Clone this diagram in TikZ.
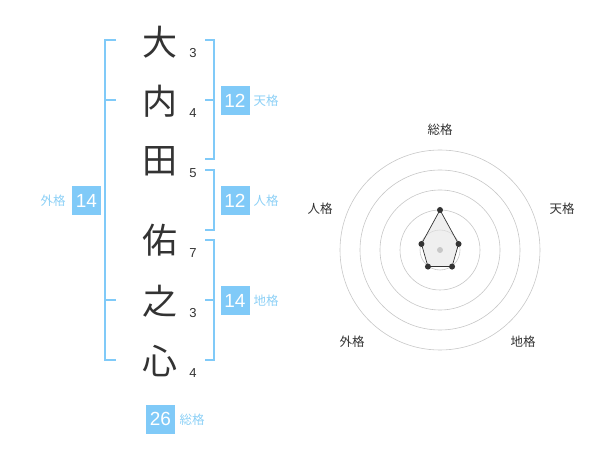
\documentclass[tikz,border=0pt]{standalone}
\usepackage{fontspec}
\setmainfont{Liberation Sans}
\newfontfamily\jp{Noto Sans CJK JP}
\definecolor{skyline}{RGB}{128,202,248}
\definecolor{skytext}{RGB}{140,208,246}
\definecolor{inkgray}{RGB}{51,51,51}
\tikzset{
  kanji/.style={text=inkgray, font=\jp\fontsize{35}{35}\selectfont, inner sep=0pt},
  strokes/.style={text=inkgray, font=\fontsize{13}{13}\selectfont, inner sep=0pt},
  bracket/.style={draw=skyline, line width=2pt},
  scorebox/.style={fill=skyline, text=white, minimum width=29pt, minimum height=29pt, inner sep=0pt, font=\fontsize{19}{19}\selectfont},
  kaku/.style={text=skytext, font=\jp\fontsize{12.5}{12.5}\selectfont, inner sep=0pt},
  axislabel/.style={text=inkgray, font=\jp\fontsize{12.5}{12.5}\selectfont, inner sep=0pt},
  ring/.style={draw=black!22, line width=0.6pt},
  dot/.style={fill=inkgray, draw=none}
}
\begin{document}
\begin{tikzpicture}[x=1pt,y=-1pt]
			%%%%% START %%%%%
			\useasboundingbox (0,0) rectangle (600,470);
			
			\node[kanji] (c1) at (160, 42) {大};
			\node[kanji] (c2) at (160, 101) {内};
			\node[kanji] (c3) at (160, 161) {田};
			\node[kanji] (c4) at (160, 240) {佑};
			\node[kanji] (c5) at (160, 301) {之};
			\node[kanji] (c6) at (160, 361) {心};
			
			\node[strokes] (s1) at (193, 53) {3};
			\node[strokes] (s2) at (193, 113) {4};
			\node[strokes] (s3) at (193, 173) {5};
			\node[strokes] (s4) at (193, 253) {7};
			\node[strokes] (s5) at (193, 313) {3};
			\node[strokes] (s6) at (193, 373) {4};
			
			\draw[bracket] (116, 40) -- (105, 40) -- (105, 360) -- (116, 360);
			\draw[bracket] (105, 100) -- (116, 100);
			\draw[bracket] (105, 300) -- (116, 300);
			
			\draw[bracket] (205, 40) -- (214, 40) -- (214, 159) -- (205, 159);
			\draw[bracket] (205, 100) -- (214, 100);
			\draw[bracket] (205, 170) -- (214, 170) -- (214, 230) -- (205, 230);
			\draw[bracket] (205, 240) -- (214, 240) -- (214, 360) -- (205, 360);
			\draw[bracket] (205, 300) -- (214, 300);
			
			\node[scorebox] (ten) at (235, 100.5) {12};
			\node[kaku] at (266, 101) {天格};
			\node[scorebox] (jin) at (235, 200.5) {12};
			\node[kaku] at (266, 201) {人格};
			\node[scorebox] (chi) at (235, 300.5) {14};
			\node[kaku] at (266, 301) {地格};
			\node[scorebox] (gai) at (86.5, 200.5) {14};
			\node[kaku] at (53, 201) {外格};
			\node[scorebox] (sou) at (160.5, 419) {26};
			\node[kaku] at (192, 420) {総格};
			
			\begin{scope}[shift={(440, 250)}, yscale=-1]
			\foreach \r in {20, 40, 60, 80, 100}
			  \draw[ring] (0, 0) circle (\r);
			\draw[fill=black!10, fill opacity=0.6, draw=inkgray, line width=0.7pt]
			  (90:40) -- (18:19.5) -- (-54:20.5) -- (-126:20.5) -- (162:19.5) -- cycle;
			\fill[black!22] (0, 0) circle (3);
			\foreach \a/\r in {90/40, 18/19.5, -54/20.5, -126/20.5, 162/19.5}
			  \fill[dot] (\a:\r) circle (3);
			\end{scope}
			
			\node[axislabel] (axsou) at (440, 130) {総格};
			\node[axislabel] (axten) at (562, 209) {天格};
			\node[axislabel] (axjin) at (320, 209) {人格};
			\node[axislabel] (axgai) at (352, 342) {外格};
			\node[axislabel] (axchi) at (523, 342) {地格};
			
			%%%%% END %%%%%
\end{tikzpicture}
\end{document}
